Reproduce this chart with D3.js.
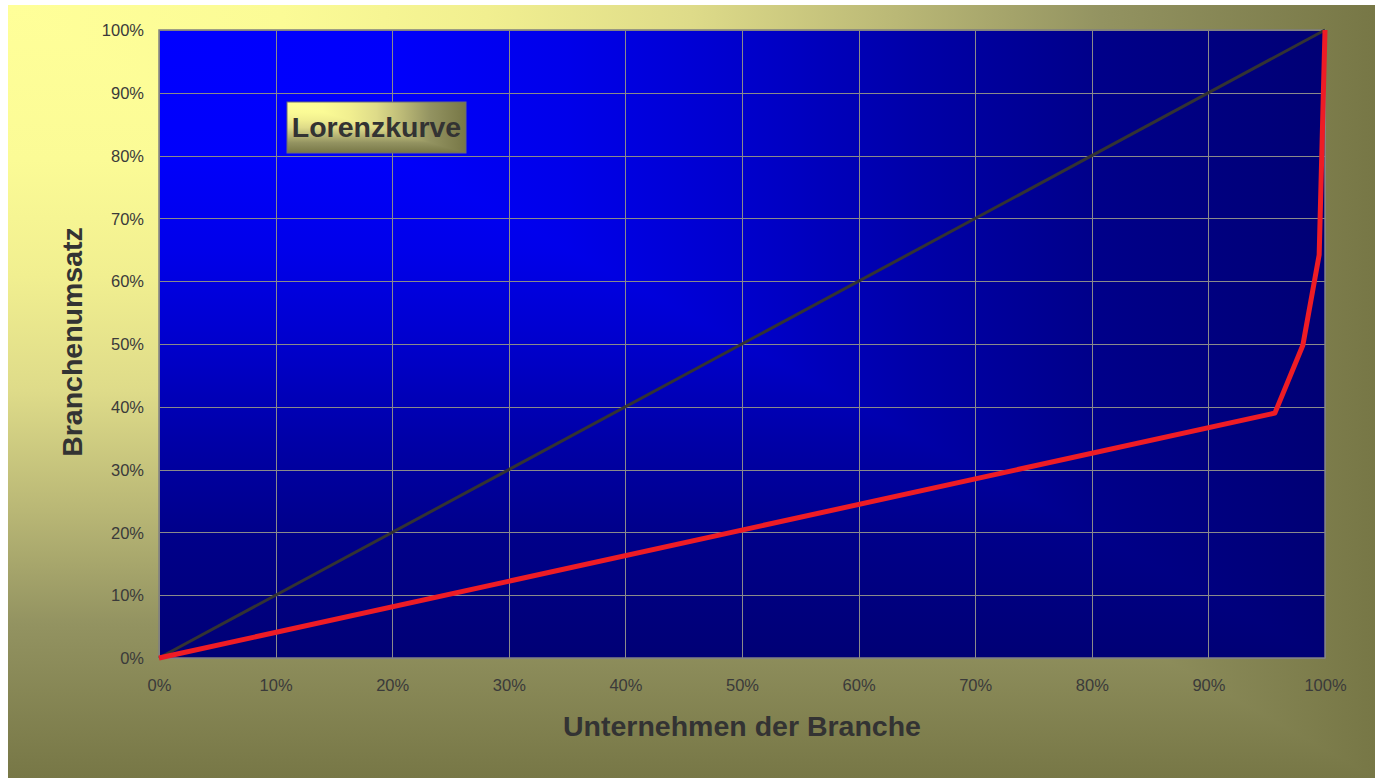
<!DOCTYPE html>
<html>
<head>
<meta charset="utf-8">
<script src="https://cdn.jsdelivr.net/npm/d3@7"></script>
<style>
  html, body { margin: 0; padding: 0; background: #ffffff; }
  svg { display: block; }
  text { font-family: "Liberation Sans", Arial, sans-serif; }
</style>
</head>
<body>
<svg id="chart" width="1375" height="778"></svg>
<script>
// ---- data ----
const tickValues = [0, 0.1, 0.2, 0.3, 0.4, 0.5, 0.6, 0.7, 0.8, 0.9, 1.0];
const tickLabels = ["0%", "10%", "20%", "30%", "40%", "50%", "60%", "70%", "80%", "90%", "100%"];
const lorenzX = [0, 0.957, 0.981, 0.995, 1.0];
const lorenzY = [0, 0.39, 0.498, 0.642, 1.0];
const equalityX = [0, 1];
const equalityY = [0, 1];
const chartTitle = "Lorenzkurve";
const xAxisTitle = "Unternehmen der Branche";
const yAxisTitle = "Branchenumsatz";

// ---- styles ----
const yellowStops = [[0, "#ffff99"], [0.2, "#fbfb96"], [0.35, "#f1ef90"], [0.5, "#dedb89"],
                     [0.65, "#bab876"], [0.8, "#939361"], [1, "#777746"]];
const blueStops = [[0, "#0000ff"], [0.2, "#0000fb"], [0.35, "#0000ea"], [0.5, "#0000cc"],
                   [0.65, "#0000a8"], [0.8, "#00008a"], [1, "#000075"]];

const svg = d3.select("#chart");
const defs = svg.append("defs");

// rectangular "from corner" gradient: t = max(x/W, y/H)
function cornerGradientRect(parent, id, x, y, w, h, stops) {
  const gh = defs.append("linearGradient").attr("id", id + "-h")
    .attr("gradientUnits", "userSpaceOnUse")
    .attr("x1", x).attr("y1", y).attr("x2", x + w).attr("y2", y);
  const gv = defs.append("linearGradient").attr("id", id + "-v")
    .attr("gradientUnits", "userSpaceOnUse")
    .attr("x1", x).attr("y1", y).attr("x2", x).attr("y2", y + h);
  stops.forEach(s => {
    gh.append("stop").attr("offset", s[0]).attr("stop-color", s[1]);
    gv.append("stop").attr("offset", s[0]).attr("stop-color", s[1]);
  });
  const g = parent.append("g");
  g.append("rect").attr("x", x).attr("y", y).attr("width", w).attr("height", h)
    .attr("fill", `url(#${id}-h)`);
  g.append("polygon")
    .attr("points", `${x},${y} ${x},${y + h} ${x + w},${y + h}`)
    .attr("fill", `url(#${id}-v)`);
  return g;
}

// background
cornerGradientRect(svg, "bg", 8, 5, 1367, 773, yellowStops);

// plot area
const margin = { left: 159, top: 30, right: 1325, bottom: 658 };
const x = d3.scaleLinear().domain([0, 1]).range([margin.left, margin.right]);
const y = d3.scaleLinear().domain([0, 1]).range([margin.bottom, margin.top]);

cornerGradientRect(svg, "plot", margin.left, margin.top,
  margin.right - margin.left, margin.bottom - margin.top, blueStops);

// gridlines
const grid = svg.append("g");
grid.selectAll("line.h").data(tickValues).join("line")
  .attr("x1", margin.left).attr("x2", margin.right)
  .attr("y1", d => Math.round(y(d)) + 0.5).attr("y2", d => Math.round(y(d)) + 0.5)
  .attr("stroke", "#8a8a8a").attr("stroke-width", 1);
grid.selectAll("line.v").data(tickValues).join("line")
  .attr("y1", margin.top).attr("y2", margin.bottom)
  .attr("x1", d => Math.round(x(d)) + 0.5).attr("x2", d => Math.round(x(d)) + 0.5)
  .attr("stroke", "#8a8a8a").attr("stroke-width", 1);

// plot border
svg.append("rect")
  .attr("x", margin.left).attr("y", margin.top)
  .attr("width", margin.right - margin.left).attr("height", margin.bottom - margin.top)
  .attr("fill", "none").attr("stroke", "#808080").attr("stroke-width", 1.5);

// axes (labels only)
const fmt = d => tickLabels[tickValues.indexOf(d)];
const yAxis = svg.append("g").attr("transform", `translate(${margin.left - 15},0)`)
  .call(d3.axisLeft(y).tickValues(tickValues).tickFormat(fmt).tickSize(0).tickPadding(0));
const xAxis = svg.append("g").attr("transform", `translate(0,${margin.bottom + 21})`)
  .call(d3.axisBottom(x).tickValues(tickValues).tickFormat(fmt).tickSize(0).tickPadding(0));
[xAxis, yAxis].forEach(a => {
  a.select(".domain").remove();
  a.selectAll("text").attr("fill", "#3a3a3a")
    .style("font-size", "16.5px").style("font-family", "'Liberation Sans', Arial, sans-serif");
});
yAxis.selectAll("text").attr("dy", "0.35em");
xAxis.selectAll("text").attr("dy", "0.71em");

// lines
const lineGen = d3.line().x(d => x(d[0])).y(d => y(d[1]));
svg.append("path")
  .datum(equalityX.map((v, i) => [v, equalityY[i]]))
  .attr("d", lineGen)
  .attr("fill", "none").attr("stroke", "#333333").attr("stroke-width", 3);
svg.append("path")
  .datum(lorenzX.map((v, i) => [v, lorenzY[i]]))
  .attr("d", lineGen)
  .attr("fill", "none").attr("stroke", "#ee1c25").attr("stroke-width", 5)
  .attr("stroke-linejoin", "round");

// title box
const tb = { x: 287, y: 102, w: 179, h: 51 };
cornerGradientRect(svg, "title", tb.x, tb.y, tb.w, tb.h, yellowStops);
svg.append("rect").attr("x", tb.x).attr("y", tb.y).attr("width", tb.w).attr("height", tb.h)
  .attr("fill", "none").attr("stroke", "#6a6a7a").attr("stroke-width", 1);
svg.append("text")
  .attr("x", tb.x + tb.w / 2).attr("y", 137)
  .attr("text-anchor", "middle")
  .attr("fill", "#333333")
  .style("font-size", "28.5px").style("font-weight", "bold")
  .text(chartTitle);

// axis titles
svg.append("text")
  .attr("x", (margin.left + margin.right) / 2).attr("y", 736)
  .attr("text-anchor", "middle").attr("fill", "#333333")
  .style("font-size", "28.5px").style("font-weight", "bold")
  .text(xAxisTitle);
svg.append("text")
  .attr("transform", `translate(82,${(margin.top + margin.bottom) / 2 - 2}) rotate(-90)`)
  .attr("text-anchor", "middle").attr("fill", "#333333")
  .style("font-size", "28.5px").style("font-weight", "bold")
  .text(yAxisTitle);
</script>
</body>
</html>
